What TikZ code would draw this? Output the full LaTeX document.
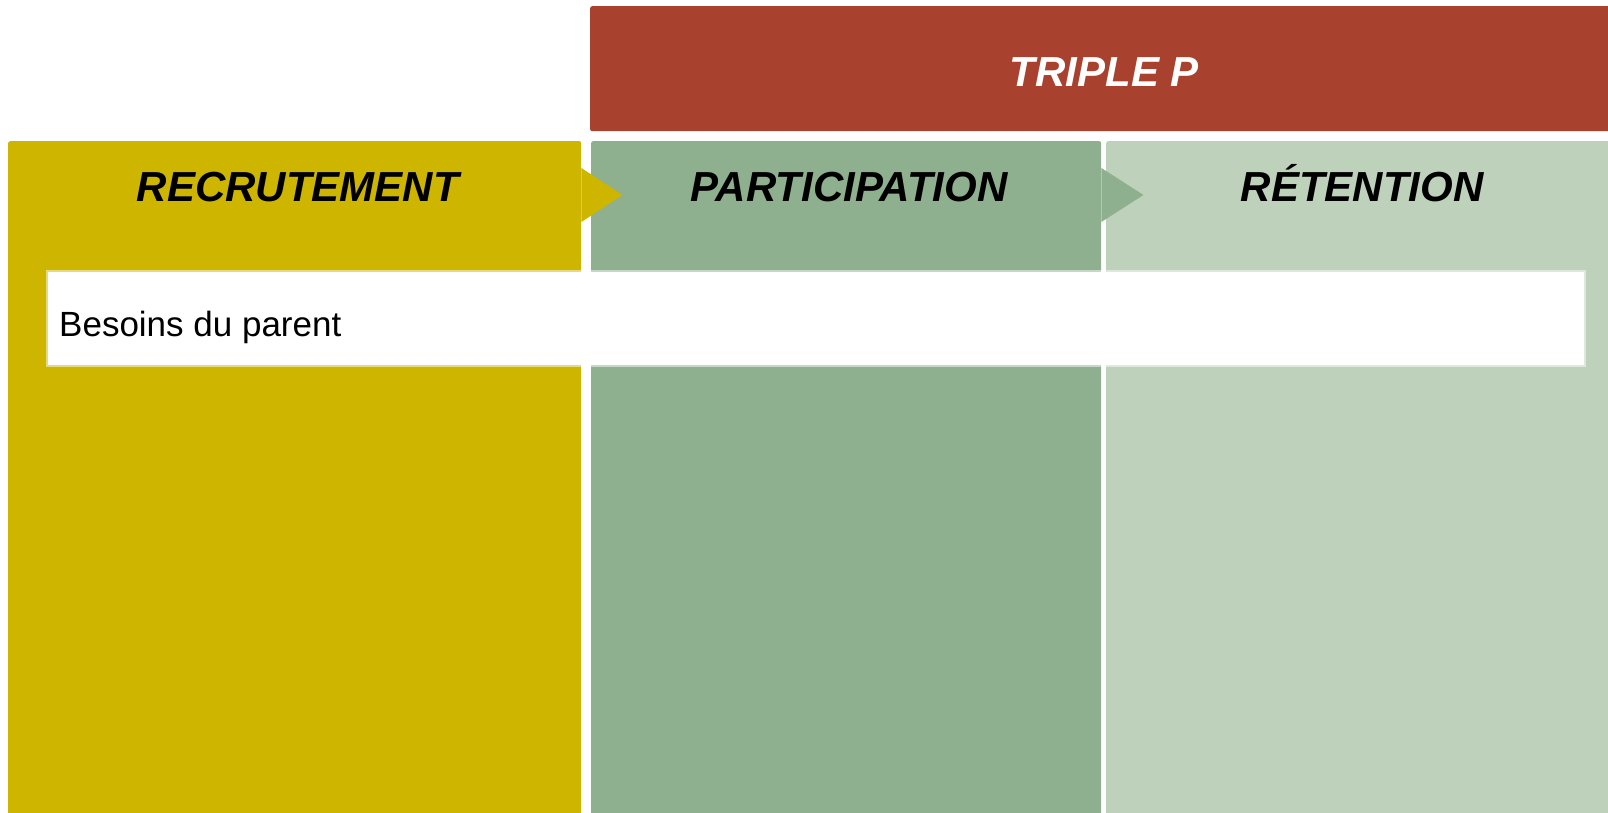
\documentclass[tikz,border=0pt]{standalone}
\usepackage{fontspec}
\setmainfont{Liberation Sans}
\definecolor{recfill}{RGB}{205,181,0}
\definecolor{parfill}{RGB}{143,176,143}
\definecolor{retfill}{RGB}{189,209,187}
\definecolor{tpfill}{RGB}{168,66,46}

\begin{document}
\begin{tikzpicture}[x=1pt, y=-1pt,
	col/.style={anchor=north west, inner sep=0pt, rounded corners=2pt},
	coltitle/.style={anchor=base, inner sep=0pt, xshift=3pt, font=\fontsize{42}{50}\selectfont\bfseries\itshape}]
	\useasboundingbox (0,0) rectangle (1608,813);
	\node[col, fill=tpfill, minimum width=1022pt, minimum height=125pt] (TP) at (590,6) {};
	\node[col, fill=recfill, minimum width=573pt, minimum height=680pt] (R) at (8,141) {};
	\node[col, fill=parfill, minimum width=510pt, minimum height=680pt] (P) at (591,141) {};
	\node[col, fill=retfill, minimum width=506pt, minimum height=680pt] (T) at (1106,141) {};
	\fill[recfill] ([yshift=-27pt]R.north east) -- ++(41,27) -- ++(-41,27) -- cycle;
	\fill[parfill] ([yshift=-27pt]P.north east) -- ++(42,27) -- ++(-42,27) -- cycle;
	\node[coltitle, text=white] (TPt) at ([yshift=-81pt]TP.north) {TRIPLE P};
	\node[coltitle] (Rt) at ([yshift=-61pt]R.north) {RECRUTEMENT};
	\node[coltitle] (Pt) at ([yshift=-61pt]P.north) {PARTICIPATION};
	\node[coltitle] (Tt) at ([yshift=-61pt]T.north) {RÉTENTION};
	\node[fill=white, draw=white, draw opacity=.5, line width=4pt, anchor=north west, inner sep=0pt,
		minimum width=1536pt, minimum height=93pt] (need) at (46,270) {};
	\node[anchor=base west, inner sep=0pt, font=\fontsize{35}{42}\selectfont] (needt)
		at ([xshift=13pt, yshift=31pt]need.south west) {Besoins du parent};
\end{tikzpicture}
\end{document}
